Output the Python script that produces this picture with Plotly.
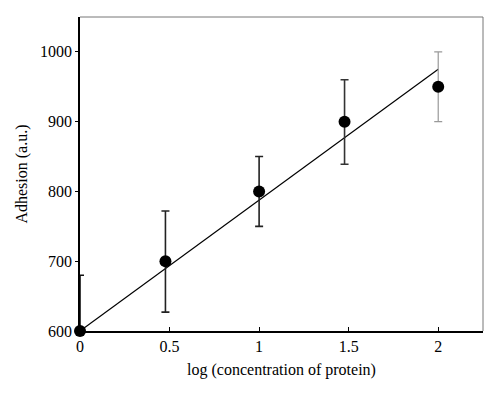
import plotly.graph_objects as go

# Data
log_conc = [0, 0.477, 1, 1.477, 2]
adhesion = [600, 700, 800, 900, 950]
err_plus = [80, 72, 50, 60, 50]
err_minus = [0, 73, 50, 61, 50]
err_colors = ["#111111", "#222222", "#222222", "#333333", "#999999"]
fit_x = [0, 2]
fit_y = [600, 975]

x_ticks = [0, 0.5, 1, 1.5, 2]
x_tick_text = ["0", "0.5", "1", "1.5", "2"]
y_ticks = [600, 700, 800, 900, 1000]

FONT = "Liberation Serif, Times New Roman, serif"

fig = go.Figure()

# fit line
fig.add_trace(go.Scatter(x=fit_x, y=fit_y, mode="lines",
                         line=dict(color="black", width=1.2),
                         showlegend=False, hoverinfo="skip"))

# error bars (one trace per point for individual colours)
for i, (xi, yi, ep, em, c) in enumerate(zip(log_conc, adhesion, err_plus, err_minus, err_colors)):
    fig.add_trace(go.Scatter(
        x=[xi], y=[yi], mode="markers",
        marker=dict(size=1, color="rgba(0,0,0,0)"),
        error_y=dict(type="data", symmetric=False, array=[ep], arrayminus=[em],
                     color=c, thickness=1.6 if c != "#999999" else 1.2, width=4),
        cliponaxis=(i != 0), showlegend=False, hoverinfo="skip"))

# markers
fig.add_trace(go.Scatter(x=log_conc, y=adhesion, mode="markers",
                         marker=dict(size=12, color="black", symbol="circle"),
                         cliponaxis=False, showlegend=False))

# top and right frame lines (thin gray)
fig.add_shape(type="line", xref="paper", yref="paper", x0=0, x1=1, y0=1, y1=1,
              line=dict(color="#777777", width=1))
fig.add_shape(type="line", xref="paper", yref="paper", x0=1, x1=1, y0=0, y1=1,
              line=dict(color="#777777", width=1))

fig.update_layout(
    width=500, height=395,
    margin=dict(l=72, r=25, t=9, b=72),
    paper_bgcolor="white", plot_bgcolor="white",
    font=dict(family=FONT, size=16, color="black"),
    xaxis=dict(range=[0, 2.25], tickvals=x_ticks, ticktext=x_tick_text,
               showgrid=False, zeroline=False, showline=True,
               linecolor="black", linewidth=1.5,
               ticks="inside", ticklen=4, tickcolor="black", tickwidth=1,
               tickfont=dict(family=FONT, size=16),
               title=dict(text="log (concentration of protein)",
                          font=dict(family=FONT, size=16), standoff=10)),
    yaxis=dict(range=[600, 1050], tickvals=y_ticks,
               showgrid=False, zeroline=False, showline=True,
               linecolor="black", linewidth=1.5,
               ticks="outside", ticklen=3, tickcolor="black", tickwidth=1,
               tickfont=dict(family=FONT, size=16),
               title=dict(text="Adhesion (a.u.)",
                          font=dict(family=FONT, size=16), standoff=8)),
)

fig.write_html("out.html")
